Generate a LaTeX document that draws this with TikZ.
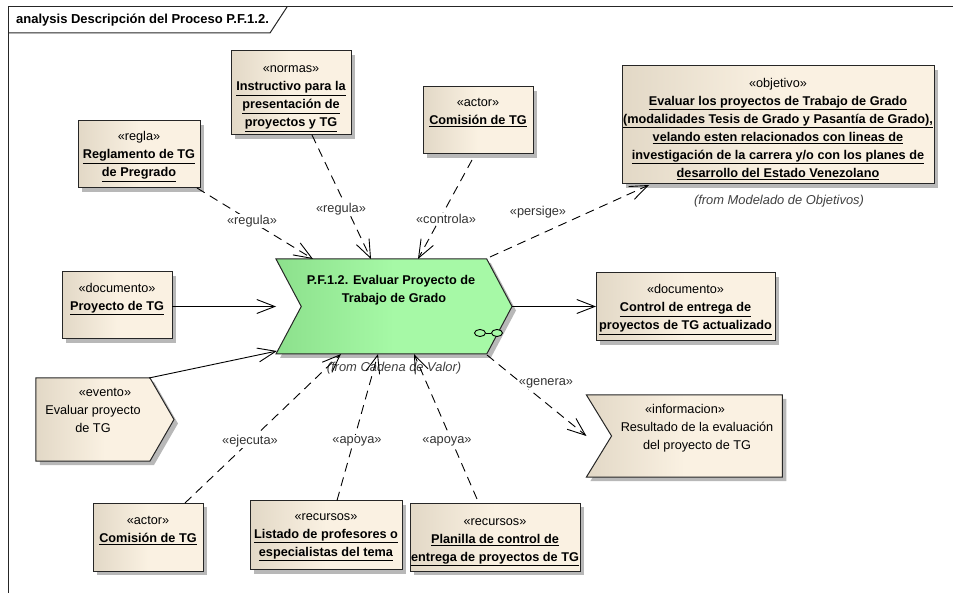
\documentclass[tikz,border=0pt]{standalone}
\usepackage{fontspec}
\setmainfont{Liberation Sans}
\usetikzlibrary{arrows.meta,shapes.symbols,shapes.geometric,shadows}
\definecolor{boxdark}{RGB}{226,216,198}
\definecolor{boxlight}{RGB}{250,241,226}
\definecolor{maindark}{RGB}{140,224,140}
\definecolor{mainlight}{RGB}{166,249,166}
\newcommand{\ul}[1]{\underline{\textbf{#1}}}
\newcommand{\dropto}[1]{\rule{0pt}{#1}}
\tikzset{
  elem/.style={draw=black!85, line width=1pt, align=center, inner sep=0pt, outer sep=0pt,
    font=\fontsize{12.7}{18}\selectfont,
    left color=boxdark, right color=boxlight, middle color=boxlight,
    drop shadow={shadow xshift=4pt, shadow yshift=-4pt, fill=black!28, opacity=1}},
  green/.style={left color=maindark, right color=mainlight, middle color=mainlight},
  rel/.style={font=\fontsize{12.8}{14}\selectfont, text=black!80, fill=white, inner sep=1pt},
  fromtext/.style={font=\fontsize{12.9}{14}\itshape\selectfont, text=black!75, inner sep=0pt},
  dep/.style={-{Straight Barb[length=18pt,width=14pt]}, dash pattern=on 9pt off 6pt, line width=0.9pt},
  flow/.style={-{Straight Barb[length=18pt,width=14pt]}, line width=0.9pt},
  ball/.style={shape=ellipse, draw=black, line width=0.9pt, fill=mainlight, minimum width=11pt, minimum height=7pt, inner sep=0pt}
}
\begin{document}
\begin{tikzpicture}[x=1pt,y=-1pt]
\useasboundingbox (0,0) rectangle (953,593);
% frame
\draw[line width=1pt, black!85] (953,7) -- (8,7) -- (8,593);
\draw[line width=1pt, black!85] (8,33) -- (270,33) -- (287,7);
\node[anchor=west, inner sep=0pt, font=\fontsize{13}{14}\bfseries\selectfont] (title) at (16,20) {analysis Descripción del Proceso P.F.1.2.};
% elements
\node[elem, minimum width=122pt, minimum height=67pt] (regla) at (139,154.5) {\dropto{13.5pt}«regla»\\\ul{Reglamento de TG}\\\ul{de Pregrado}};
\node[elem, minimum width=120pt, minimum height=84pt] (normas) at (291,93) {\dropto{18.5pt}«normas»\\\ul{Instructivo para la}\\\ul{presentación de}\\\ul{proyectos y TG}};
\node[elem, minimum width=110pt, minimum height=67pt] (actorA) at (478,120.5) {«actor»\\\ul{Comisión de TG}\\~};
\node[elem, minimum width=312pt, minimum height=118pt] (objetivo) at (778,125) {\dropto{16.5pt}«objetivo»\\\ul{Evaluar los proyectos de Trabajo de Grado}\\\ul{(modalidades Tesis de Grado y Pasantía de Grado),}\\\ul{velando esten relacionados con lineas de}\\\ul{investigación de la carrera y/o con los planes de}\\\ul{desarrollo del Estado Venezolano}};
\node[fromtext] (fromobj) at (779,201) {(from Modelado de Objetivos)};
\node[elem, minimum width=110pt, minimum height=67pt] (docA) at (117,305.5) {«documento»\\\ul{Proyecto de TG}\\~};
\node[elem, green, shape=signal, signal to=east, signal from=west, signal pointer angle=124, minimum width=236pt, minimum height=95pt] (main) at (394,306.5) {\textbf{P.F.1.2. Evaluar Proyecto de}\hspace*{6pt}\\\textbf{Trabajo de Grado}\hspace*{6pt}\\~\\~};
\node[elem, minimum width=179pt, minimum height=68pt] (docB) at (685.5,307) {\dropto{14.5pt}«documento»\\\ul{Control de entrega de}\\\ul{proyectos de TG actualizado}};
\node[elem, shape=signal, signal to=east, signal from=nowhere, signal pointer angle=120, minimum width=138pt, minimum height=83pt] (evento) at (93,419.5) {\hspace*{24pt}«evento»\\Evaluar proyecto\\de TG\\~};
\node[elem, shape=signal, signal to=nowhere, signal from=west, signal pointer angle=117, minimum width=196pt, minimum height=82pt] (info) at (697,436) {«informacion»\hspace*{24pt}\\Resultado de la evaluación\\del proyecto de TG\\~};
\node[elem, minimum width=110pt, minimum height=68pt] (actorB) at (148,537) {\dropto{11.5pt}«actor»\\\ul{Comisión de TG}\\~};
\node[elem, minimum width=152pt, minimum height=69pt] (recA) at (326,535) {\dropto{11.5pt}«recursos»\\\ul{Listado de profesores o}\\\ul{especialistas del tema}};
\node[elem, minimum width=170pt, minimum height=68pt] (recB) at (495,537) {\dropto{17.5pt}«recursos»\\\ul{Planilla de control de}\\\ul{entrega de proyectos de TG}};
\node[fromtext] (fromcad) at (394,368) {(from Cadena de Valor)};
\node[ball] (ballA) at (480,333) {};
\node[ball] (ballB) at (497,333) {};
\draw[line width=0.9pt] (ballA) -- (ballB);
% attachment points
\coordinate (mainW) at (main.north west |- main.center);
\coordinate (infoW) at (info.north west |- info.center);
% connectors
\path [draw=black] ([xshift=-3pt]regla.south east) edge[dep] ([xshift=-81pt]main.north);
\path [draw=black] ([xshift=21pt]normas.south) edge[dep] ([xshift=-23pt]main.north);
\path [draw=black] ([xshift=-6pt,yshift=-6pt]actorA.south) edge[dep] ([xshift=24pt]main.north);
\path [draw=black] ([xshift=96pt,yshift=2pt]main.north) edge[dep] ([xshift=-129pt,yshift=-1pt]objetivo.south);
\path [draw=black] (docA.east |- mainW) edge[flow] (mainW);
\path [draw=black] ([xshift=56pt]evento.north) edge[flow] ([xshift=-117pt,yshift=3pt]main.south);
\path [draw=black] (main.east) edge[flow] (docB.west |- main.east);
\path [draw=black] ([xshift=37pt]actorB.north) edge[dep] ([xshift=-53pt]main.south);
\path [draw=black] ([xshift=11pt]recA.north) edge[dep] ([xshift=-16pt]main.south);
\path [draw=black] ([xshift=-18pt,yshift=4pt]recB.north) edge[dep] ([xshift=20pt]main.south);
\path [draw=black] ([xshift=93pt,yshift=-1pt]main.south) edge[dep] (infoW);
% labels
\node[rel] (lregla) at (252,221) {«regula»};
\node[rel] (lnormas) at (341,209) {«regula»};
\node[rel] (lactor) at (446,219) {«controla»};
\node[rel] (lobj) at (538,212) {«persige»};
\node[rel] (lejec) at (250,441) {«ejecuta»};
\node[rel] (lrecA) at (357,441) {«apoya»};
\node[rel] (lrecB) at (447,441) {«apoya»};
\node[rel] (linfo) at (546,383) {«genera»};
\end{tikzpicture}
\end{document}
